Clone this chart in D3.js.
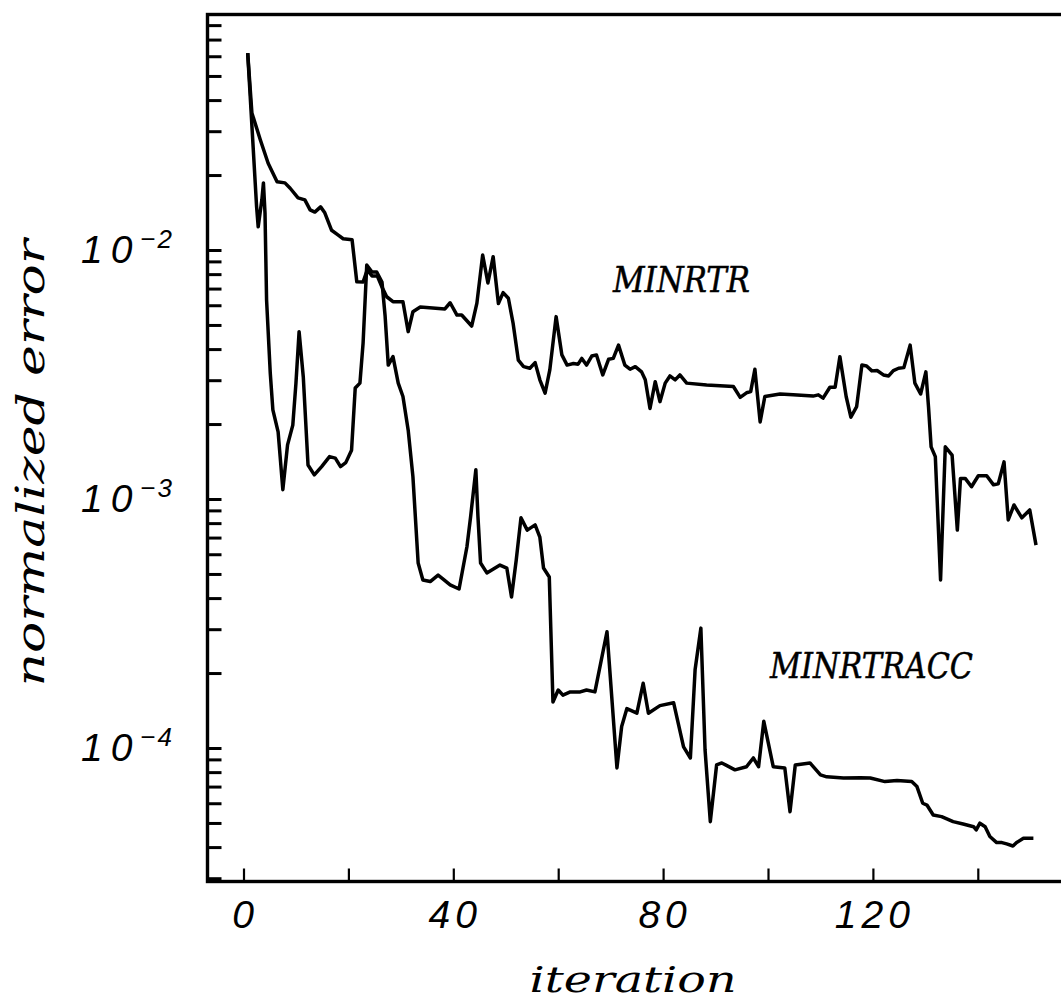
<!DOCTYPE html>
<html><head><meta charset="utf-8">
<script src="https://cdn.jsdelivr.net/npm/d3@7"></script>
<style>body{margin:0;background:#fff}svg{display:block}</style>
</head><body>
<svg id="c" width="1061" height="1005"></svg>
<script>
// ---------------- data ----------------
const seriesNames = ["MINRTR", "MINRTRACC"];

const minrtrIter = [
  0.8,1.6,3.2,4.7,6.4,7.9,8.9,10.4,11.7,12.7,
  13.6,14.7,15.5,16.8,18.0,19.0,20.7,21.6,22.8,23.6,
  24.5,25.5,26.4,27.3,28.5,30.4,31.4,32.3,33.7,38.4,
  39.4,40.7,41.6,43.5,44.5,45.6,46.6,47.6,48.6,49.5,
  50.5,51.4,52.4,53.4,54.6,55.6,56.5,57.5,58.4,59.6,
  60.7,61.7,62.9,63.8,64.5,65.4,66.4,67.3,68.5,69.6,
  70.5,71.5,72.7,73.7,74.7,75.9,76.6,77.5,78.5,79.4,
  80.4,81.3,82.3,83.2,84.5,88.3,93.4,94.7,95.9,96.7,
  97.5,98.5,99.4,102.3,104.8,108.6,109.6,110.5,111.8,112.8,
  113.7,114.9,115.8,116.9,117.9,118.8,119.8,120.8,122.0,123.0,
  123.9,124.9,125.9,127.1,128.0,129.1,130.1,130.6,131.1,131.9,
  132.9,133.8,135.1,136.1,136.7,137.6,138.8,140.1,141.7,143.0,
  143.9,145.0,145.8,146.9,148.4,149.9,151.1
];
const minrtrErr = [
  0.0617,0.0355,0.0277,0.0223,0.0188,0.0186,0.0177,0.0162,0.0159,0.0145,
  0.0142,0.0149,0.0141,0.0120,0.0115,0.0111,0.0110,0.00746,0.00744,0.00832,
  0.00787,0.00787,0.0071,0.00649,0.0062,0.0062,0.0047,0.00565,0.0059,0.0058,
  0.00614,0.00548,0.00548,0.00495,0.00612,0.00955,0.00737,0.0094,0.0061,0.00674,
  0.0064,0.00508,0.00361,0.0034,0.00335,0.00353,0.00301,0.00266,0.0033,0.0054,
  0.00379,0.00345,0.0035,0.00348,0.00367,0.00345,0.00375,0.00379,0.00315,0.00364,
  0.00367,0.00415,0.00345,0.00332,0.0034,0.00324,0.00301,0.00231,0.00296,0.00246,
  0.00292,0.00312,0.00301,0.00315,0.00292,0.00287,0.00283,0.00256,0.00267,0.0027,
  0.00332,0.00204,0.00258,0.00264,0.00262,0.00259,0.00262,0.00254,0.00281,0.00281,
  0.00373,0.00258,0.00213,0.00235,0.00345,0.00342,0.00327,0.00328,0.00315,0.00312,
  0.00328,0.00335,0.00337,0.00415,0.00292,0.00264,0.00324,0.00235,0.00162,0.00148,
  0.000473,0.00162,0.0015,0.00075,0.00121,0.00121,0.00112,0.00124,0.00124,0.00114,
  0.00115,0.00141,0.000824,0.000946,0.00084,0.000904,0.000653
];

const minrtraccIter = [
  0.8,2.5,2.8,3.5,3.8,4.1,4.4,5.1,5.6,6.6,
  7.5,8.4,9.4,10.0,10.6,11.4,12.3,13.5,14.9,16.4,
  17.5,18.5,19.5,20.6,21.3,22.2,22.8,23.5,24.5,25.4,
  26.4,27.0,27.6,28.5,29.5,30.4,31.4,32.3,33.3,34.2,
  35.6,37.1,38.0,39.4,41.1,42.6,43.3,44.3,44.7,45.2,
  46.4,48.9,50.2,51.1,52.0,52.9,54.1,55.6,56.5,57.2,
  58.3,59.0,60.0,60.9,62.3,64.2,65.4,67.0,69.3,71.2,
  72.1,73.1,75.0,76.2,77.2,79.4,82.0,83.9,85.2,86.1,
  87.2,88.0,89.0,90.2,91.2,93.7,95.9,97.2,98.2,99.2,
  101.0,103.2,104.2,105.2,108.0,110.0,111.2,114.4,117.6,119.5,
  122.3,124.6,127.4,128.4,129.5,130.3,131.5,133.1,135.3,137.2,
  139.2,139.7,140.4,141.4,142.3,143.6,144.6,145.5,146.7,147.4,
  148.7,150.6
];
const minrtraccErr = [
  0.0617,0.0149,0.0124,0.0159,0.0186,0.0141,0.0063,0.00321,0.00228,0.00186,
  0.00109,0.00165,0.00198,0.00292,0.0047,0.00309,0.00137,0.00125,0.00135,0.00148,
  0.00146,0.00135,0.0014,0.00157,0.00279,0.00292,0.00423,0.0087,0.00816,0.00816,
  0.00744,0.00543,0.00345,0.00373,0.00292,0.00258,0.00189,0.00123,5.53e-4,4.73e-4,
  4.66e-4,4.95e-4,4.78e-4,4.52e-4,4.35e-4,6.43e-4,8.49e-4,0.00131,8.49e-4,5.53e-4,
  5.05e-4,5.43e-4,5.28e-4,4.04e-4,5.69e-4,8.4e-4,7.5e-4,7.87e-4,7.03e-4,5.28e-4,
  4.86e-4,1.53e-4,1.71e-4,1.63e-4,1.68e-4,1.68e-4,1.71e-4,1.68e-4,2.93e-4,8.32e-5,
  1.22e-4,1.44e-4,1.38e-4,1.82e-4,1.38e-4,1.48e-4,1.52e-4,1.01e-4,9.12e-5,2.06e-4,
  3.03e-4,9.82e-5,5.06e-5,8.55e-5,8.71e-5,8.17e-5,8.41e-5,9.12e-5,8.41e-5,1.28e-4,
  8.41e-5,8.32e-5,5.55e-5,8.55e-5,8.71e-5,7.8e-5,7.66e-5,7.58e-5,7.6e-5,7.58e-5,
  7.33e-5,7.4e-5,7.33e-5,7.0e-5,6.0e-5,5.9e-5,5.38e-5,5.3e-5,5.06e-5,4.95e-5,
  4.83e-5,4.69e-5,4.99e-5,4.83e-5,4.41e-5,4.17e-5,4.17e-5,4.12e-5,4.04e-5,4.17e-5,
  4.34e-5,4.34e-5
];

const xTickValues = [0, 20, 40, 60, 80, 100, 120, 140];
const xTickLabels = ["0", "", "40", "", "80", "", "120", ""];
const yLabelExponents = [-2, -3, -4];
const xTitle = "iteration";
const yTitle = "normalized error";

// ---------------- layout ----------------
const svg = d3.select("#c");
const L = 207.5, R = 1063, T = 14.5, B = 881.5;

const x = d3.scaleLinear().domain([0, 140]).range([243.5, 977.8]);
const y = d3.scaleLog().domain([1e-4, 1e-2]).range([748, 250]);

const serifIt = "'DejaVu Serif', serif";
const numFont = "'Liberation Sans', 'DejaVu Sans', sans-serif";

// squeeze/stretch a text to a given length while keeping it real text
function fitLen(sel, target) {
  sel.attr("textLength", target).attr("lengthAdjust", "spacingAndGlyphs");
}

// minor/major y ticks covering the visible range
const yLo = y.invert(B), yHi = y.invert(T);
const yTickValues = [];
for (let e = -6; e <= 0; e++) {
  for (let k = 1; k <= 9; k++) {
    const v = k * Math.pow(10, e);
    if (v >= yLo && v <= yHi) yTickValues.push(v);
  }
}

const yAxis = d3.axisLeft(y).tickValues(yTickValues).tickSize(-14).tickFormat("");
svg.append("g").attr("transform", `translate(${L},0)`).call(yAxis)
  .call(g => g.select(".domain").remove())
  .call(g => g.selectAll("line").attr("stroke", "#000").attr("stroke-width", 3));

const xAxis = d3.axisBottom(x).tickValues(xTickValues).tickSize(-13).tickFormat("");
svg.append("g").attr("transform", `translate(0,${B})`).call(xAxis)
  .call(g => g.select(".domain").remove())
  .call(g => g.selectAll("line").attr("stroke", "#000").attr("stroke-width", 2.2));

// frame
svg.append("rect").attr("x", L).attr("y", T).attr("width", R - L).attr("height", B - T)
  .attr("fill", "none").attr("stroke", "#000").attr("stroke-width", 3.4);

// x tick labels
svg.append("g").selectAll("text").data(xTickValues).join("text")
  .attr("x", d => x(d) + 2).attr("y", 928)
  .attr("text-anchor", "middle")
  .attr("font-family", numFont).attr("font-style", "italic")
  .attr("font-size", 39).attr("letter-spacing", 5)
  .text((d, i) => xTickLabels[i]);

// y tick labels 10^n
yLabelExponents.forEach(e => {
  const yy = y(Math.pow(10, e));
  const t = svg.append("text")
    .attr("x", 174).attr("y", yy + 13)
    .attr("text-anchor", "end")
    .attr("font-family", numFont).attr("font-style", "italic")
    .attr("font-size", 39);
  t.append("tspan").attr("letter-spacing", 8).text("10");
  t.append("tspan").attr("font-size", 26).attr("dy", -15).attr("letter-spacing", 2).text("\u2212" + Math.abs(e));
});

// axis titles
const xt = svg.append("text").attr("x", 633).attr("y", 992)
  .attr("text-anchor", "middle").attr("font-family", serifIt).attr("font-style", "italic")
  .attr("font-size", 35).text(xTitle);
fitLen(xt, 207);

const yt = svg.append("text").attr("transform", "translate(44,463) rotate(-90)")
  .attr("text-anchor", "middle").attr("font-family", serifIt).attr("font-style", "italic")
  .attr("font-size", 40).text(yTitle);
fitLen(yt, 447);

// lines
const line = d3.line().x(d => x(d[0])).y(d => y(d[1]));
const series = [
  d3.zip(minrtrIter, minrtrErr),
  d3.zip(minrtraccIter, minrtraccErr)
];
svg.append("g").selectAll("path").data(series).join("path")
  .attr("d", line).attr("fill", "none").attr("stroke", "#000")
  .attr("stroke-width", 3.5).attr("stroke-linejoin", "round");

// series labels
const lab1 = svg.append("text").attr("x", 613).attr("y", 292)
  .attr("font-family", serifIt).attr("font-style", "italic").attr("font-size", 35)
  .attr("stroke", "#000").attr("stroke-width", 0.5)
  .text(seriesNames[0]);
fitLen(lab1, 137);
const lab2 = svg.append("text").attr("x", 770).attr("y", 678)
  .attr("font-family", serifIt).attr("font-style", "italic").attr("font-size", 35)
  .attr("stroke", "#000").attr("stroke-width", 0.5)
  .text(seriesNames[1]);
fitLen(lab2, 203);
</script>
</body></html>
